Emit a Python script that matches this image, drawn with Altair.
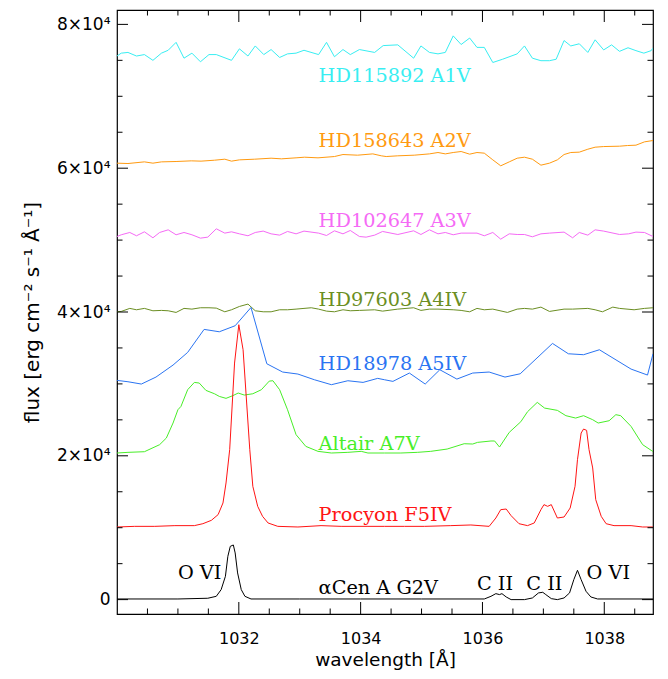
import altair as alt
import pandas as pd

# ---------------- data ----------------
names = ['HD115892 A1V', 'HD158643 A2V', 'HD102647 A3V', 'HD97603 A4IV',
         'HD18978 A5IV', 'Altair A7V', 'Procyon F5IV', 'αCen A G2V']
colors = ['#38eef2', '#ff9a10', '#f56af5', '#6b8e23',
          '#2a74f2', '#48ee28', '#ff1414', '#000000']

lam_cyan = [1030.00, 1030.07, 1030.18, 1030.32, 1030.45, 1030.59, 1030.73, 1030.84, 1030.97, 1031.10,
            1031.23, 1031.37, 1031.51, 1031.63, 1031.88, 1032.01, 1032.15, 1032.27, 1032.41, 1032.53,
            1032.67, 1032.80, 1032.94, 1033.07, 1033.31, 1033.44, 1033.57, 1033.71, 1033.83, 1033.98,
            1034.23, 1034.37, 1034.61, 1034.87, 1034.99, 1035.13, 1035.27, 1035.39, 1035.52, 1035.65,
            1035.79, 1035.91, 1036.03, 1036.17, 1036.33, 1036.57, 1036.69, 1036.82, 1036.96, 1037.10,
            1037.21, 1037.34, 1037.45, 1037.59, 1037.73, 1037.85, 1037.99, 1038.12, 1038.25, 1038.39,
            1038.52, 1038.65, 1038.77, 1038.80]
flux_cyan = [75600, 76000, 76100, 75600, 75800, 75000, 76000, 76400, 77500, 75300,
             76000, 74800, 75800, 75800, 75000, 76600, 75600, 77000, 75800, 76500,
             75400, 75900, 76000, 76400, 75800, 77500, 75500, 76500, 75800, 76500,
             76100, 77050, 77150, 75300, 77000, 76100, 75900, 76100, 78400, 77200,
             78100, 76800, 76800, 74700, 75150, 75900, 77000, 75300, 74950, 74950,
             75150, 77750, 77000, 77300, 76100, 77850, 76450, 77150, 76250, 76750,
             76350, 76000, 76350, 76700]

lam_orange = [1030.00, 1030.18, 1030.45, 1030.59, 1030.73, 1030.97, 1031.22, 1031.38, 1031.60, 1031.77,
              1031.88, 1032.01, 1032.26, 1032.53, 1032.70, 1032.94, 1033.08, 1033.30, 1033.57, 1033.71,
              1033.95, 1034.20, 1034.34, 1034.42, 1034.61, 1034.88, 1035.13, 1035.27, 1035.39, 1035.52,
              1035.65, 1035.79, 1035.91, 1036.03, 1036.17, 1036.30, 1036.44, 1036.57, 1036.69, 1036.82,
              1036.96, 1037.10, 1037.23, 1037.34, 1037.45, 1037.59, 1037.73, 1037.85, 1037.99, 1038.25,
              1038.38, 1038.52, 1038.66, 1038.80]
flux_orange = [60700, 60650, 60880, 60700, 60880, 60930, 61020, 60980, 61110, 61250,
               60980, 61160, 61250, 61390, 61300, 61440, 61530, 61440, 61620, 61900,
               61810, 61990, 61720, 61620, 61720, 61810, 61990, 62180, 61990, 62180,
               62320, 61950, 62180, 62090, 61160, 60330, 60880, 61390, 61530, 61250,
               60420, 60700, 61160, 61900, 62180, 62230, 62640, 62920, 63010, 63060,
               63150, 63200, 63660, 63850]

lam_magenta = [1030.00, 1030.07, 1030.21, 1030.32, 1030.45, 1030.59, 1030.70, 1030.84, 1030.97, 1031.10,
               1031.23, 1031.37, 1031.49, 1031.63, 1031.77, 1031.88, 1032.01, 1032.15, 1032.27, 1032.40,
               1032.53, 1032.67, 1032.80, 1032.94, 1033.07, 1033.31, 1033.44, 1033.57, 1033.71, 1033.83,
               1033.98, 1034.09, 1034.23, 1034.36, 1034.61, 1034.87, 1034.99, 1035.13, 1035.27, 1035.39,
               1035.52, 1035.65, 1035.91, 1036.03, 1036.17, 1036.30, 1036.44, 1036.57, 1036.69, 1036.82,
               1036.96, 1037.10, 1037.34, 1037.48, 1037.59, 1037.73, 1037.85, 1037.99, 1038.25, 1038.40,
               1038.52, 1038.66, 1038.80]
flux_magenta = [50500, 50740, 51060, 50600, 51150, 50320, 51060, 51430, 50740, 51060,
                50740, 50270, 50410, 51570, 50970, 51150, 50870, 50600, 51060, 51250,
                50870, 50690, 51200, 50870, 51250, 50970, 50640, 51290, 50870, 51340,
                50500, 50410, 50690, 51200, 50780, 51290, 50780, 51430, 50870, 51060,
                50740, 50970, 50970, 50600, 51060, 50130, 50870, 50780, 50780, 50460,
                50870, 50970, 51110, 50320, 51060, 50690, 51430, 51250, 50780, 50870,
                51110, 51060, 50500]

lam_olive = [1030.00, 1030.07, 1030.21, 1030.32, 1030.45, 1030.59, 1030.73, 1030.84, 1030.97, 1031.10,
             1031.23, 1031.37, 1031.51, 1031.63, 1031.77, 1031.88, 1032.01, 1032.15, 1032.27, 1032.40,
             1032.53, 1032.67, 1032.80, 1032.94, 1033.07, 1033.19, 1033.31, 1033.44, 1033.57, 1033.71,
             1033.83, 1033.98, 1034.23, 1034.36, 1034.61, 1034.87, 1034.99, 1035.13, 1035.27, 1035.52,
             1035.65, 1035.79, 1035.91, 1036.03, 1036.17, 1036.41, 1036.57, 1036.69, 1036.82, 1036.96,
             1037.10, 1037.34, 1037.48, 1037.73, 1037.85, 1037.97, 1038.14, 1038.25, 1038.49, 1038.66,
             1038.80]
flux_olive = [40030, 40080, 40500, 40310, 40500, 40170, 40220, 40170, 39940, 40500,
              40400, 40590, 40590, 40540, 40030, 40310, 40770, 41100, 40170, 40030,
              40030, 40310, 40310, 40400, 40500, 40590, 40400, 40120, 40030, 40310,
              40170, 40220, 40310, 40120, 40400, 40590, 40220, 40400, 40400, 40310,
              40220, 40030, 40500, 40310, 40400, 39940, 40400, 40500, 40400, 40680,
              40080, 40400, 40400, 40500, 40310, 40030, 40680, 40500, 40310, 40500,
              40590]

lam_blue = [1030.00, 1030.18, 1030.40, 1030.64, 1030.92, 1031.16, 1031.43, 1031.68, 1031.94, 1032.20,
            1032.46, 1032.72, 1032.97, 1033.24, 1033.52, 1033.79, 1034.04, 1034.28, 1034.39, 1034.53,
            1034.80, 1035.06, 1035.30, 1035.58, 1035.84, 1036.11, 1036.37, 1036.62, 1037.15, 1037.41,
            1037.66, 1037.92, 1038.44, 1038.71, 1038.80]
flux_blue = [30490, 30300, 29980, 30950, 32620, 34380, 37580, 37250, 38090, 40630,
             32800, 31650, 31370, 30580, 29890, 30440, 30210, 30770, 30580, 30350,
             31510, 29980, 31970, 30670, 31510, 31650, 30950, 31410, 35630, 34190,
             34060, 34750, 32060, 31230, 34190]

lam_green = [1030.00, 1030.18, 1030.45, 1030.70, 1030.81, 1030.92, 1031.00, 1031.05, 1031.16, 1031.27,
             1031.35, 1031.46, 1031.60, 1031.68, 1031.79, 1031.90, 1031.99, 1032.09, 1032.23, 1032.37,
             1032.50, 1032.56, 1032.67, 1032.80, 1032.94, 1033.10, 1033.30, 1033.52, 1033.79, 1034.01,
             1034.12, 1034.39, 1034.66, 1034.93, 1035.15, 1035.42, 1035.70, 1035.84, 1035.92, 1036.14,
             1036.20, 1036.28, 1036.44, 1036.63, 1036.74, 1036.90, 1037.02, 1037.23, 1037.37, 1037.53,
             1037.66, 1037.81, 1037.90, 1038.08, 1038.19, 1038.27, 1038.44, 1038.63, 1038.77, 1038.80]
flux_green = [20390, 20480, 20570, 21550, 22470, 24560, 26410, 26870, 29190, 30210,
              30120, 29100, 28630, 28260, 27990, 28360, 28730, 28450, 28630, 29190,
              30390, 30440, 29190, 26410, 22940, 21310, 20620, 20390, 20480, 20620,
              20390, 20390, 20390, 20480, 20620, 20940, 21680, 21640, 21870, 22060,
              22060, 21220, 23260, 24740, 26130, 27430, 26640, 26320, 25580, 25250,
              25580, 25020, 24560, 24880, 25720, 25580, 24090, 21550, 20760, 20600]

lam_red = [1030.00, 1030.29, 1030.62, 1030.95, 1031.27, 1031.41, 1031.55, 1031.66, 1031.74, 1031.79,
           1031.85, 1031.93, 1032.00, 1032.07, 1032.18, 1032.23, 1032.31, 1032.39, 1032.48, 1032.64,
           1032.97, 1033.35, 1033.68, 1034.12, 1034.39, 1034.72, 1035.05, 1035.48, 1035.81, 1036.11,
           1036.22, 1036.30, 1036.39, 1036.47, 1036.60, 1036.74, 1036.85, 1036.96, 1037.01, 1037.07,
           1037.13, 1037.23, 1037.34, 1037.44, 1037.52, 1037.56, 1037.62, 1037.66, 1037.71, 1037.75,
           1037.81, 1037.86, 1037.95, 1038.03, 1038.16, 1038.44, 1038.63, 1038.80]
flux_red = [10100, 10190, 10190, 10290, 10290, 10560, 11030, 11820, 13440, 16220,
            20850, 32900, 38230, 34750, 20850, 15760, 12970, 11580, 10660, 10190,
            10100, 10290, 10190, 10190, 10190, 10190, 10190, 10290, 10380, 10190,
            11350, 12510, 12600, 11680, 10560, 10290, 10660, 12510, 13210, 12970,
            13210, 11350, 11490, 12740, 15760, 19460, 23170, 23720, 23540, 20850,
            18310, 13900, 11580, 10560, 10290, 10290, 10100, 10100]

lam_black = [1030.00, 1031.00, 1031.49, 1031.63, 1031.71, 1031.78, 1031.82, 1031.86, 1031.91, 1031.94,
             1031.98, 1032.04, 1032.10, 1032.20, 1033.00, 1034.00, 1035.00, 1036.03, 1036.14, 1036.22,
             1036.28, 1036.32, 1036.39, 1036.47, 1036.69, 1036.82, 1036.92, 1036.99, 1037.04, 1037.13,
             1037.23, 1037.34, 1037.43, 1037.50, 1037.56, 1037.62, 1037.70, 1037.78, 1037.89, 1038.80]
flux_black = [90, 90, 190, 460, 1390, 3240, 6020, 7410, 7600, 6490,
              3710, 1390, 460, 90, 90, 90, 90, 90, 460, 830,
              700, 830, 370, 0, 0, 230, 930, 1020, 700, 140,
              0, 230, 930, 2780, 4080, 2780, 1160, 370, 90, 90]

label_lam = [1033.31] * 8
label_flux = [72000, 63000, 51850, 40900, 31970, 20750, 10880, 830]

ann_text = ['O VI', 'C II', 'C II', 'O VI']
ann_lam = [1031.00, 1035.91, 1036.72, 1037.71]
ann_flux = [2880, 1390, 1390, 2920]

x_major = [1032, 1034, 1036, 1038]
x_minor = [1030.5, 1031, 1031.5, 1032.5, 1033, 1033.5, 1034.5, 1035, 1035.5,
           1036.5, 1037, 1037.5, 1038.5]
y_major = [0, 20000, 40000, 60000, 80000]
y_minor = [5000, 10000, 15000, 25000, 30000, 35000, 45000, 50000, 55000,
           65000, 70000, 75000]

# ---------------- tables ----------------
series = [(lam_cyan, flux_cyan), (lam_orange, flux_orange), (lam_magenta, flux_magenta),
          (lam_olive, flux_olive), (lam_blue, flux_blue), (lam_green, flux_green),
          (lam_red, flux_red), (lam_black, flux_black)]
rows = []
for name, (ls, fs) in zip(names, series):
    for l, f in zip(ls, fs):
        rows.append({'series': name, 'lam': l, 'flux': f})
df = pd.DataFrame(rows)
df_lab = pd.DataFrame({'series': names, 'lam': label_lam, 'flux': label_flux})
df_ann = pd.DataFrame({'txt': ann_text, 'lam': ann_lam, 'flux': ann_flux})

W, H = 536, 604
xs = alt.Scale(domain=[1030, 1038.8], nice=False, zero=False)
ys = alt.Scale(domain=[-2000, 82000], nice=False, zero=False)
cs = alt.Scale(domain=names, range=colors)

x_axis = alt.Axis(values=x_major, format='d', ticks=False, tickSize=0, domain=False, grid=False,
                  labelFont='DejaVu Sans', labelFontSize=16, labelColor='black',
                  labelPadding=29, labelBaseline='alphabetic', labelOverlap=False,
                  title='wavelength [Å]', titleFont='DejaVu Sans', titleFontSize=18.5,
                  titleFontWeight='normal', titleColor='black',
                  titleX=W / 2, titleY=51, titleBaseline='alphabetic')
y_axis = alt.Axis(values=y_major, ticks=False, tickSize=0, domain=False, grid=False,
                  labelExpr="datum.value == 0 ? '0' : format(datum.value / 10000, 'd') + '×10⁴'",
                  labelFont='DejaVu Sans', labelFontSize=17, labelColor='black',
                  labelPadding=7, labelOverlap=False,
                  title='flux [erg cm⁻² s⁻¹ Å⁻¹]', titleFont='DejaVu Sans', titleFontSize=20,
                  titleFontWeight='normal', titleColor='black',
                  titleX=-79, titleY=H / 2, titleBaseline='alphabetic')

lines = alt.Chart(df).mark_line(strokeWidth=1, clip=True).encode(
    x=alt.X('lam:Q', scale=xs, axis=x_axis),
    y=alt.Y('flux:Q', scale=ys, axis=y_axis),
    color=alt.Color('series:N', scale=cs, legend=None),
)

labels = alt.Chart(df_lab).mark_text(align='left', baseline='alphabetic',
                                     font='DejaVu Serif', fontSize=19.3).encode(
    x=alt.X('lam:Q', scale=xs), y=alt.Y('flux:Q', scale=ys),
    text='series:N', color=alt.Color('series:N', scale=cs, legend=None),
)

ann = alt.Chart(df_ann).mark_text(align='left', baseline='alphabetic', color='black',
                                  font='DejaVu Serif', fontSize=19.3).encode(
    x=alt.X('lam:Q', scale=xs), y=alt.Y('flux:Q', scale=ys), text='txt:N',
)


def xticks(vals, length):
    d = pd.DataFrame({'lam': vals})
    base = alt.Chart(d).mark_rule(color='black', strokeWidth=1)
    top = base.encode(x=alt.X('lam:Q', scale=xs), y=alt.value(0), y2=alt.value(length))
    bot = base.encode(x=alt.X('lam:Q', scale=xs), y=alt.value(H), y2=alt.value(H - length))
    return [top, bot]


def yticks(vals, length):
    d = pd.DataFrame({'flux': vals})
    base = alt.Chart(d).mark_rule(color='black', strokeWidth=1)
    left = base.encode(y=alt.Y('flux:Q', scale=ys), x=alt.value(0), x2=alt.value(length))
    right = base.encode(y=alt.Y('flux:Q', scale=ys), x=alt.value(W), x2=alt.value(W - length))
    return [left, right]


layers = [lines] + xticks(x_major, 12) + xticks(x_minor, 5.5) + \
    yticks(y_major, 11) + yticks(y_minor, 5.5) + [labels, ann]

chart = alt.layer(*layers).properties(
    width=W, height=H,
    autosize=alt.AutoSizeParams(type='none'),
    padding={'left': 109, 'top': 2, 'right': 6, 'bottom': 56},
    background='white',
).configure_view(stroke='black', strokeWidth=1.2)

chart.save('out.html', embed_options={'renderer': 'svg', 'actions': False})
